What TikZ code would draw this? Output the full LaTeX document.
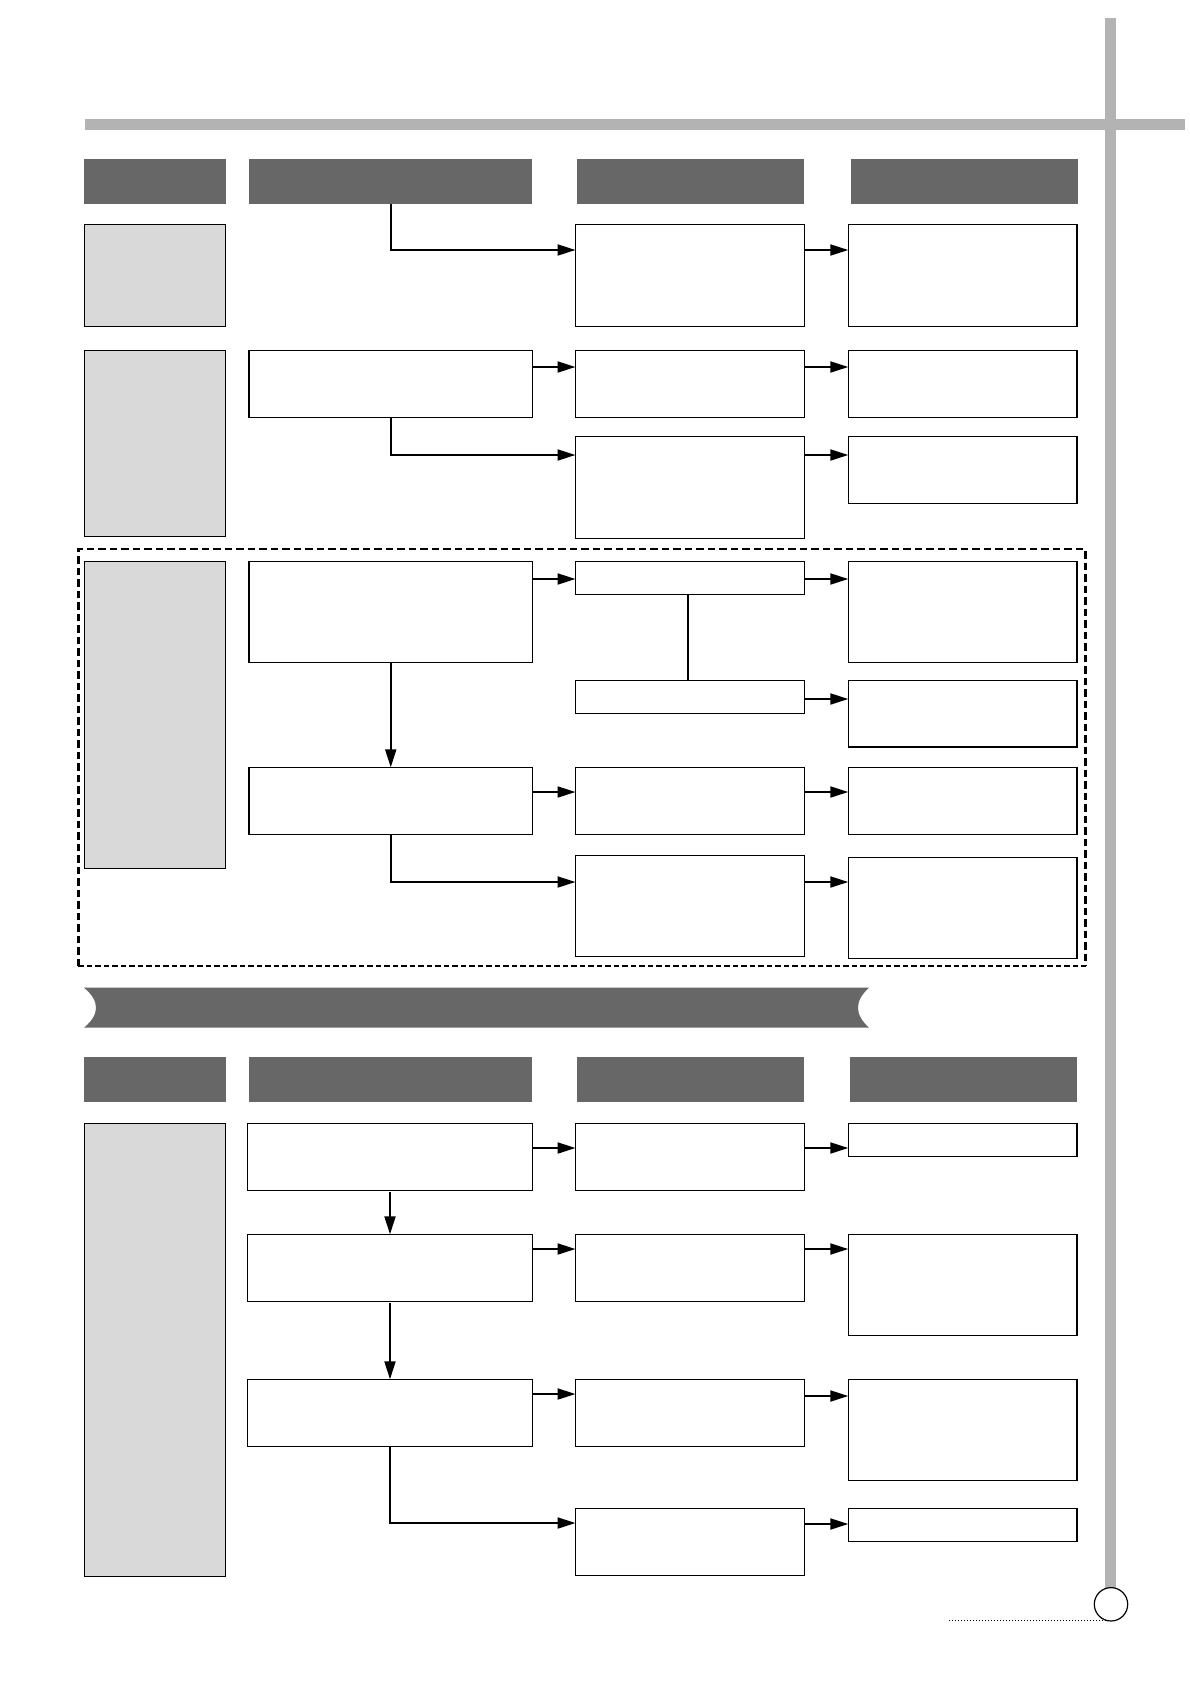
\documentclass[tikz,border=0pt]{standalone}
\usetikzlibrary{arrows.meta}
\definecolor{hdr}{HTML}{676767}
\definecolor{barc}{HTML}{B3B3B3}
\definecolor{gfill}{HTML}{D9D9D9}
\newcommand{\mkbox}[6]{\node[#1, anchor=north west, minimum width={(#5)-(#3)}, minimum height={(#6)-(#4)}] (#2) at (#3,#4) {};}
\newcommand{\harr}[3]{\draw[conn] (#1.east |- 0,#3) -- (#2.west |- 0,#3);}
\begin{document}
\begin{tikzpicture}[x=1pt,y=-1pt,
  wbox/.style={draw=black, line width=1.5pt, fill=white, inner sep=0pt, outer sep=0pt},
  gbox/.style={wbox, fill=gfill},
  hbox/.style={fill=hdr, inner sep=0pt, outer sep=0pt},
  conn/.style={line width=2pt, -{Triangle[length=18pt,width=11pt]}},
  plainline/.style={line width=2pt},
  grayband/.style={fill=barc}]
\useasboundingbox (0,0) rectangle (1190,1684);
% page bars
\fill[grayband] (1105,17.7) rectangle (1116,1588);
\fill[grayband] (85,119) rectangle (1185,130);
% headers row 1
\mkbox{hbox}{h1}{84.3}{159}{226.3}{204}
\mkbox{hbox}{h2}{249.1}{159}{532.4}{204}
\mkbox{hbox}{h3}{577.2}{159}{804.3}{204}
\mkbox{hbox}{h4}{850.6}{159}{1077.7}{204}
% section 1
\mkbox{gbox}{g1}{84.3}{224.3}{225.7}{326.7}
\mkbox{wbox}{a3}{575.5}{224.3}{804.5}{326.7}
\mkbox{wbox}{a4}{848.3}{224.3}{1076.8}{326.7}
\draw[conn] (h2.south) |- (a3.west |- 0,250);
\harr{a3}{a4}{250}
% section 2
\mkbox{gbox}{g2}{84.3}{350.3}{225.7}{536.3}
\mkbox{wbox}{b2}{249}{350.3}{532.5}{417.3}
\mkbox{wbox}{b3}{575.5}{350.3}{804.5}{417.3}
\mkbox{wbox}{b4}{848.3}{350.3}{1076.8}{417.3}
\mkbox{wbox}{c3}{575.5}{436.3}{804.5}{538.3}
\mkbox{wbox}{c4}{848.3}{436.3}{1076.8}{503.3}
\harr{b2}{b3}{367}
\harr{b3}{b4}{367}
\draw[conn] (b2.south) |- (c3.west |- 0,455);
\harr{c3}{c4}{455}
% section 3 (dashed group)
\draw[line width=2.3pt, dash pattern=on 7.5pt off 4pt] (78.4,966.3) -- (78.4,549.3) -- (1085.5,549.3) -- (1085.5,966.3);
\draw[line width=2.3pt, dash pattern=on 5.5pt off 3pt] (78.4,966.3) -- (1085.5,966.3);
\mkbox{gbox}{g3}{84.3}{561.7}{225.7}{868.3}
\mkbox{wbox}{d2}{249}{561.7}{532.5}{662.3}
\mkbox{wbox}{d3}{575.5}{561.7}{804.5}{594.3}
\mkbox{wbox}{d4}{848.3}{561.7}{1076.8}{662.3}
\mkbox{wbox}{e3}{575.5}{680.3}{804.5}{713.3}
\mkbox{wbox}{e4}{848.3}{680.3}{1076.8}{747}
\mkbox{wbox}{f2}{249}{767.3}{532.5}{834.3}
\mkbox{wbox}{f3}{575.5}{767.3}{804.5}{834.3}
\mkbox{wbox}{f4}{848.3}{767.3}{1076.8}{834.3}
\mkbox{wbox}{k3}{575.5}{855.3}{804.5}{956.3}
\mkbox{wbox}{k4}{848.3}{857.3}{1076.8}{958.3}
\harr{d2}{d3}{579}
\harr{d3}{d4}{579}
\draw[plainline] (d3.south -| 688,0) -- (e3.north -| 688,0);
\harr{e3}{e4}{699}
\draw[conn] (d2.south) -- (f2.north);
\harr{f2}{f3}{792}
\harr{f3}{f4}{792}
\draw[conn] (f2.south) |- (k3.west |- 0,882);
\harr{k3}{k4}{882}
% banner
\fill[hdr] (84,987.7) -- (869,987.7) .. controls (854.3,1001) and (854.3,1014.4) .. (869,1027.7) -- (84,1027.7) .. controls (100,1014.4) and (100,1001) .. (84,987.7) -- cycle;
% headers row 2
\mkbox{hbox}{s1}{83.8}{1057}{225.8}{1102}
\mkbox{hbox}{s2}{248.8}{1057}{532}{1102}
\mkbox{hbox}{s3}{576.7}{1057}{803.7}{1102}
\mkbox{hbox}{s4}{850}{1057}{1077}{1102}
% section 4
\mkbox{gbox}{g4}{84.3}{1123.3}{225.7}{1576.3}
\mkbox{wbox}{m2}{247.5}{1123.3}{532.5}{1190.3}
\mkbox{wbox}{m3}{575.5}{1123.3}{804.5}{1190.3}
\mkbox{wbox}{m4}{848.3}{1123.3}{1076.8}{1156.3}
\mkbox{wbox}{n2}{247.5}{1234.3}{532.5}{1301.3}
\mkbox{wbox}{n3}{575.5}{1234.3}{804.5}{1301.3}
\mkbox{wbox}{n4}{848.3}{1234.3}{1076.8}{1335.3}
\mkbox{wbox}{p2}{247.5}{1379.3}{532.5}{1446.3}
\mkbox{wbox}{p3}{575.5}{1379.3}{804.5}{1446.3}
\mkbox{wbox}{p4}{848.3}{1379.3}{1076.8}{1480.3}
\mkbox{wbox}{q3}{575.5}{1508.3}{804.5}{1575.3}
\mkbox{wbox}{q4}{848.3}{1508.3}{1076.8}{1541.3}
\harr{m2}{m3}{1148}
\harr{m3}{m4}{1148}
\draw[conn] ([yshift=-2pt]m2.south) -- (n2.north);
\harr{n2}{n3}{1249}
\harr{n3}{n4}{1249}
\draw[conn] ([yshift=-2pt]n2.south) -- (p2.north);
\harr{p2}{p3}{1394}
\harr{p3}{p4}{1396}
\draw[conn] (p2.south) |- (q3.west |- 0,1523);
\harr{q3}{q4}{1524}
% page marker
\draw[line width=1pt, dash pattern=on 1pt off 2pt] (949,1620) -- (1108,1620);
\draw[line width=1.2pt, fill=white] (1111,1604.3) circle[radius=16.7pt];
\end{tikzpicture}
\end{document}
